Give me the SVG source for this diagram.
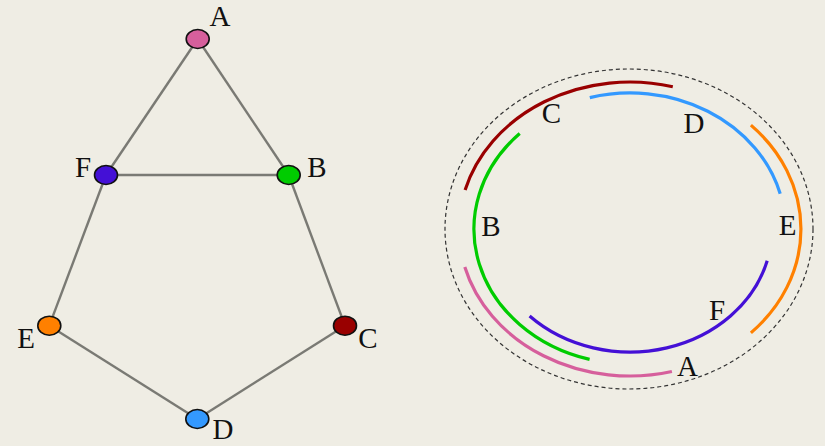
<svg xmlns="http://www.w3.org/2000/svg" width="825" height="446" viewBox="0 0 825 446">
<style>
.edge{stroke:#7a7a74;stroke-width:2.4;fill:none}
.node{stroke:#111;stroke-width:1.6}
.lbl{font-family:"Liberation Serif","DejaVu Serif",serif;font-size:29px;fill:#111;text-anchor:middle}
.arc{fill:none;stroke-width:3.2;stroke-linecap:butt}
</style>
<rect width="825" height="446" fill="#efede4"/>
<g id="connectors">
<line class="edge" x1="197.7" y1="39" x2="106" y2="175"/>
<line class="edge" x1="197.7" y1="39" x2="288.7" y2="175"/>
<line class="edge" x1="106" y1="175" x2="288.7" y2="175"/>
<line class="edge" x1="106" y1="175" x2="49.3" y2="325.7"/>
<line class="edge" x1="288.7" y1="175" x2="345" y2="325.7"/>
<line class="edge" x1="49.3" y1="325.7" x2="197.3" y2="419"/>
<line class="edge" x1="345" y1="325.7" x2="197.3" y2="419"/>
</g>
<g id="node-A"><ellipse class="node" cx="197.7" cy="39" rx="11.5" ry="9.5" fill="#d65f9c"/><text class="lbl" x="220" y="26">A</text></g>
<g id="node-F"><ellipse class="node" cx="106" cy="175" rx="11.5" ry="9.5" fill="#4410d6"/><text class="lbl" x="83" y="177">F</text></g>
<g id="node-B"><ellipse class="node" cx="288.7" cy="175" rx="11.5" ry="9.5" fill="#00cc00"/><text class="lbl" x="317" y="177">B</text></g>
<g id="node-E"><ellipse class="node" cx="49.3" cy="325.7" rx="11.5" ry="9.5" fill="#ff8000"/><text class="lbl" x="26" y="348">E</text></g>
<g id="node-C"><ellipse class="node" cx="345" cy="325.7" rx="11.5" ry="9.5" fill="#990000"/><text class="lbl" x="368" y="348">C</text></g>
<g id="node-D"><ellipse class="node" cx="197.3" cy="419" rx="11.5" ry="9.5" fill="#3399ff"/><text class="lbl" x="223" y="439">D</text></g>
<g id="arc-diagram">
<ellipse cx="629" cy="229" rx="184" ry="160" fill="none" stroke="#333" stroke-width="1.2" stroke-dasharray="4 3"/>
<path id="arc-C" class="arc" stroke="#990000" d="M465.1 190 A171 147 0 0 1 672.8 86.7"/>
<path id="arc-A" class="arc" stroke="#d65f9c" d="M464.8 267 A171 147 0 0 0 671.9 371.5"/>
<path id="arc-E" class="arc" stroke="#ff8000" d="M750.9 125.1 A171 147 0 0 1 750.9 332.9"/>
<path id="arc-B" class="arc" stroke="#00cc00" d="M519.7 133.5 A156 135 0 0 0 589.6 359.4"/>
<path id="arc-D" class="arc" stroke="#3399ff" d="M589.8 97.6 A155.5 136 0 0 1 780.2 193.8"/>
<path id="arc-F" class="arc" stroke="#4410d6" d="M529.6 316 A142 123 0 0 0 767.2 260.8"/>
<text class="lbl" x="551.5" y="123">C</text>
<text class="lbl" x="694" y="133">D</text>
<text class="lbl" x="491" y="236">B</text>
<text class="lbl" x="787.5" y="235">E</text>
<text class="lbl" x="717" y="320">F</text>
<text class="lbl" x="687.5" y="376">A</text>
</g>
</svg>
